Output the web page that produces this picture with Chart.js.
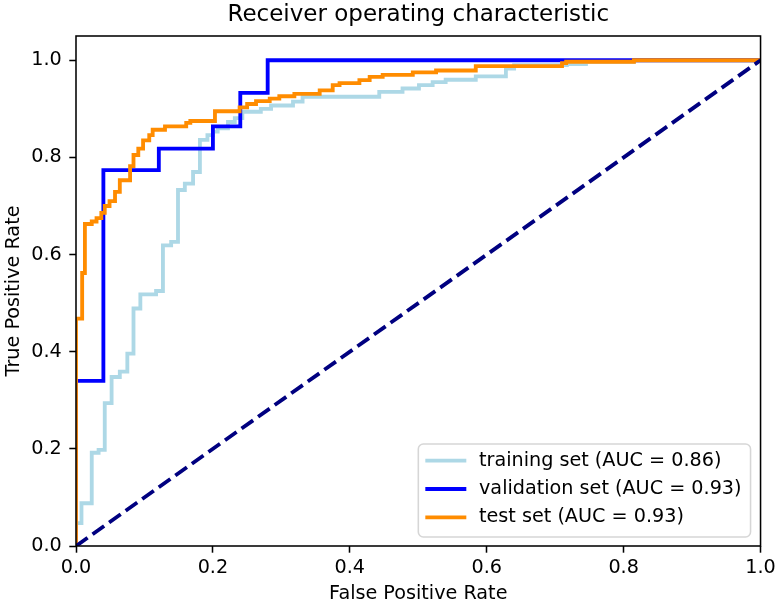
<!DOCTYPE html>
<html>
<head>
<meta charset="utf-8">
<title>Receiver operating characteristic</title>
<script src="https://cdn.jsdelivr.net/npm/chart.js@4.4.0/dist/chart.umd.min.js"></script>
<style>
    html, body { margin: 0; padding: 0; background: #fff; }
    #wrap { position: relative; width: 780px; height: 605px; }
</style>
</head>
<body>
<div id="wrap"><canvas id="roc"></canvas></div>
<script>
// ---------------------------------------------------------------------------
// Data (step vertices: at fpr the tpr jumps up)
// ---------------------------------------------------------------------------
const trainFpr = [0, 0, 0.008, 0.023, 0.033, 0.042, 0.052, 0.064, 0.075, 0.084, 0.094, 0.117, 0.127, 0.139,
    0.149, 0.159, 0.171, 0.181, 0.192, 0.200, 0.207, 0.222, 0.232, 0.243, 0.270, 0.285, 0.317, 0.331,
    0.443, 0.477, 0.501, 0.521, 0.540, 0.584, 0.628, 0.640, 0.717, 0.745, 0.815, 1.0];
const trainTpr = [0, 0.047, 0.088, 0.192, 0.198, 0.294, 0.348, 0.359, 0.396, 0.489, 0.518, 0.525, 0.619, 0.626,
    0.733, 0.746, 0.770, 0.836, 0.846, 0.853, 0.860, 0.873, 0.881, 0.894, 0.900, 0.907, 0.915, 0.925,
    0.935, 0.942, 0.949, 0.955, 0.960, 0.967, 0.983, 0.990, 0.992, 0.997, 1.0, 1.0];

const valFpr = [0, 0, 0.040, 0.121, 0.200, 0.240, 0.280, 1.0];
const valTpr = [0, 0.340, 0.774, 0.818, 0.864, 0.933, 1.0, 1.0];

const testFpr = [0, 0, 0.009, 0.013, 0.023, 0.030, 0.037, 0.042, 0.049, 0.057, 0.064, 0.079, 0.084, 0.091,
    0.098, 0.107, 0.112, 0.130, 0.161, 0.167, 0.203, 0.239, 0.250, 0.263, 0.283, 0.297, 0.319, 0.356,
    0.375, 0.385, 0.414, 0.429, 0.448, 0.492, 0.526, 0.584, 0.710, 0.716, 0.815, 1.0];
const testTpr = [0, 0.468, 0.562, 0.663, 0.668, 0.675, 0.686, 0.700, 0.710, 0.729, 0.753, 0.782, 0.805, 0.818,
    0.835, 0.846, 0.857, 0.864, 0.871, 0.875, 0.895, 0.903, 0.910, 0.916, 0.921, 0.926, 0.931, 0.938,
    0.949, 0.953, 0.959, 0.966, 0.970, 0.975, 0.979, 0.988, 0.994, 0.997, 1.0, 1.0];

const chanceFpr = [0, 1];
const chanceTpr = [0, 1];

const seriesLabels = ['training set (AUC = 0.86)', 'validation set (AUC = 0.93)', 'test set (AUC = 0.93)'];
const xTicks = [0.0, 0.2, 0.4, 0.6, 0.8, 1.0];
const yTicks = [0.0, 0.2, 0.4, 0.6, 0.8, 1.0];

// ---------------------------------------------------------------------------
// Styling (matplotlib look at ~1.92 px per point)
// ---------------------------------------------------------------------------
const FONT = '"DejaVu Sans", "Liberation Sans", sans-serif';
const BASE_SIZE = 19.2;
const LINE_W = 3.84;
const SPINE_W = 1.54;
const TICK_LEN = 6.7;

Chart.defaults.font.family = FONT;
Chart.defaults.font.size = BASE_SIZE;
Chart.defaults.color = '#000';

const toPoints = (xs, ys) => xs.map((x, i) => ({ x, y: ys[i] }));

// all four spines, drawn on top of the curves
const framePlugin = {
    id: 'frame',
    afterDatasetsDraw(chart) {
        const { ctx, chartArea: a } = chart;
        ctx.save();
        ctx.strokeStyle = '#000';
        ctx.lineWidth = SPINE_W;
        ctx.strokeRect(a.left, a.top, a.right - a.left, a.bottom - a.top);
        ctx.restore();
    }
};

// legend box inside the plot, lower right
const insideLegend = {
    id: 'insideLegend',
    afterDraw(chart) {
        const { ctx, chartArea: a } = chart;
        const items = chart.data.datasets.filter(ds => ds.label);
        ctx.save();
        ctx.font = `${BASE_SIZE}px ${FONT}`;
        const textW = Math.max(...items.map(ds => ctx.measureText(ds.label).width));
        const padL = 7, handle = 41, gap = 12.7, padR = 9, rowH = 28.3;
        const w = padL + handle + gap + textW + padR;
        const h = 93;
        const x = a.right - 10 - w;
        const y = a.bottom - 9 - h;

        ctx.beginPath();
        ctx.roundRect(x, y, w, h, 5);
        ctx.fillStyle = 'rgba(255,255,255,0.8)';
        ctx.fill();
        ctx.strokeStyle = 'rgba(204,204,204,0.8)';
        ctx.lineWidth = SPINE_W;
        ctx.stroke();

        items.forEach((ds, i) => {
            const cy = y + 16.7 + i * rowH;
            ctx.beginPath();
            ctx.moveTo(x + padL, cy);
            ctx.lineTo(x + padL + handle, cy);
            ctx.strokeStyle = ds.borderColor;
            ctx.lineWidth = LINE_W;
            ctx.stroke();
            ctx.fillStyle = '#000';
            ctx.textAlign = 'left';
            ctx.textBaseline = 'middle';
            ctx.fillText(ds.label, x + padL + handle + gap, cy);
        });
        ctx.restore();
    }
};

const rocLine = (label, xs, ys, color, order) => ({
    label,
    data: toPoints(xs, ys),
    borderColor: color,
    backgroundColor: color,
    borderWidth: LINE_W,
    pointRadius: 0,
    stepped: 'before',
    fill: false,
    clip: 0,
    order
});

const axisGrid = { drawOnChartArea: false, drawTicks: true, tickLength: TICK_LEN, tickWidth: SPINE_W, tickColor: '#000' };

new Chart(document.getElementById('roc'), {
    type: 'line',
    data: {
        datasets: [
            rocLine(seriesLabels[0], trainFpr, trainTpr, '#add8e6', 4),
            rocLine(seriesLabels[1], valFpr, valTpr, '#0000ff', 3),
            rocLine(seriesLabels[2], testFpr, testTpr, '#ff8c00', 2),
            {
                label: '',
                data: toPoints(chanceFpr, chanceTpr),
                borderColor: '#000080',
                borderWidth: LINE_W,
                borderDash: [14.2, 6.1],
                borderCapStyle: 'butt',
                pointRadius: 0,
                fill: false,
                clip: 0,
                order: 1
            }
        ]
    },
    options: {
        responsive: true,
        maintainAspectRatio: false,
        animation: false,
        events: [],
        layout: { padding: { left: 0, right: 18, top: 0, bottom: 0 } },
        plugins: {
            legend: { display: false },
            tooltip: { enabled: false },
            title: {
                display: true,
                fullSize: false,
                text: 'Receiver operating characteristic',
                color: '#000',
                font: { size: 23, weight: 'normal', lineHeight: 1.2 },
                padding: { top: 1.2, bottom: 7.2 }
            }
        },
        scales: {
            x: {
                type: 'linear',
                min: 0,
                max: 1,
                afterBuildTicks: s => { s.ticks = xTicks.map(v => ({ value: v })); },
                afterFit: s => { s.height = 59; },
                ticks: { padding: 4.2, maxRotation: 0, callback: v => v.toFixed(1) },
                grid: axisGrid,
                border: { display: false },
                title: {
                    display: true,
                    text: 'False Positive Rate',
                    font: { size: BASE_SIZE, lineHeight: 1.1 },
                    padding: { top: 0, bottom: 0 }
                }
            },
            y: {
                type: 'linear',
                min: 0,
                max: 1.05,
                afterBuildTicks: s => { s.ticks = yTicks.map(v => ({ value: v })); },
                afterFit: s => { s.width = 76; },
                ticks: { padding: 7.6, callback: v => v.toFixed(1) },
                grid: axisGrid,
                border: { display: false },
                title: {
                    display: true,
                    text: 'True Positive Rate',
                    font: { size: BASE_SIZE, lineHeight: 1.1 },
                    padding: { top: 3.4, bottom: 0 }
                }
            }
        }
    },
    plugins: [framePlugin, insideLegend]
});
</script>
</body>
</html>
